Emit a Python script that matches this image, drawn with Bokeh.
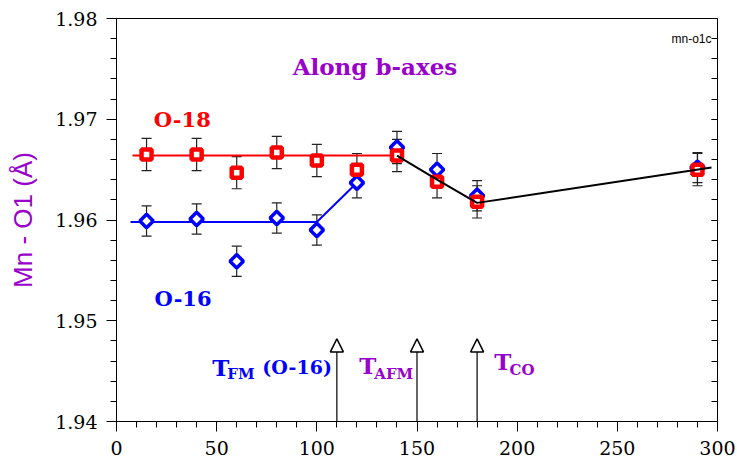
import numpy as np
from bokeh.plotting import figure
from bokeh.models import (Range1d, SingleIntervalTicker, LinearAxis, Whisker, TeeHead,
                          Arrow, NormalHead, ColumnDataSource, PrintfTickFormatter, Label,
                          CustomJSTickFormatter)
from bokeh.embed import file_html
from bokeh.resources import INLINE
from bokeh.core.properties import value

# ---------------- data ----------------
temps = [15, 40, 60, 80, 100, 120, 140, 160, 180, 290]
o18 = [1.9665, 1.9665, 1.9647, 1.9667, 1.9659, 1.9650, 1.9664, 1.9638, 1.9618, 1.9650]
o18_err = [0.0016, 0.0016, 0.0016, 0.0016, 0.0016, 0.0016, 0.0016, 0.0016, 0.0016, 0.0016]
o16 = [1.9599, 1.9601, 1.9559, 1.9602, 1.9590, 1.9637, 1.9672, 1.9650, 1.9624, 1.9652]
o16_err = [0.0015, 0.0015, 0.0015, 0.0015, 0.0015, 0.0015, 0.0016, 0.0016, 0.0015, 0.0015]

o18_fit_x = [8, 140]
o18_fit_y = [1.9664, 1.9664]
o16_fit_x = [7, 100, 120]
o16_fit_y = [1.9598, 1.9598, 1.9637]
common_fit_x = [140, 160, 180, 297]
common_fit_y = [1.9664, 1.9640, 1.9617, 1.9652]

transition_x = [110, 150, 180]
arrow_top = 1.9482
arrow_base = 1.94

x_ticks_interval = 50
y_ticks_interval = 0.01

PURPLE = "#9900CC"
SERIF = "DejaVu Serif"
SANS = "Liberation Sans"

p = figure(width=737, height=465, output_backend="svg", toolbar_location=None,
           x_range=Range1d(0, 300), y_range=Range1d(1.94, 1.98),
           min_border_left=116, min_border_right=20, min_border_top=18,
           min_border_bottom=44, x_axis_location="below")
p.grid.visible = False
p.outline_line_color = "black"
p.outline_line_width = 1
p.background_fill_color = "white"
p.border_fill_color = "white"

# axes
xa = p.xaxis[0]
xa.ticker = SingleIntervalTicker(interval=x_ticks_interval, num_minor_ticks=5)
ya = p.yaxis[0]
ya.ticker = SingleIntervalTicker(interval=y_ticks_interval, num_minor_ticks=5)
ya.formatter = PrintfTickFormatter(format="%.2f")
for ax in (xa, ya):
    ax.major_tick_in = 0
    ax.major_tick_out = 10
    ax.minor_tick_in = 0
    ax.minor_tick_out = 6
    ax.axis_line_color = "black"
    ax.major_tick_line_color = "black"
    ax.minor_tick_line_color = "black"
    ax.major_label_text_font = SERIF
    ax.major_label_text_font_size = "19px"
    ax.major_label_text_color = "black"
    ax.major_label_standoff = 9
ya.axis_label = "Mn - O1 (Å)"
ya.axis_label_text_font = SANS
ya.axis_label_text_font_style = "normal"
ya.axis_label_text_font_size = "26px"
ya.axis_label_text_color = PURPLE
ya.axis_label_standoff = 14

ra = LinearAxis(ticker=SingleIntervalTicker(interval=y_ticks_interval, num_minor_ticks=5),
                formatter=CustomJSTickFormatter(code="return '';"),
                major_label_standoff=0,
                major_tick_in=6, major_tick_out=0, minor_tick_in=6, minor_tick_out=0,
                axis_line_color="black")
p.add_layout(ra, "right")

# fit lines under markers
p.line(o18_fit_x, o18_fit_y, line_color="red", line_width=2)
p.line(o16_fit_x, o16_fit_y, line_color="blue", line_width=2)

# markers
p.scatter(temps, o16, marker="square", angle=np.pi / 4, size=9.5,
          line_color="blue", line_width=3.5, fill_color="white")
p.scatter(temps, o18, marker="square", size=10,
          line_color="red", line_width=4.5, fill_color="white")

p.line(common_fit_x, common_fit_y, line_color="black", line_width=2)

# error bars
for vals, errs in ((o18, o18_err), (o16, o16_err)):
    src = ColumnDataSource(dict(x=temps,
                                lo=[v - e for v, e in zip(vals, errs)],
                                hi=[v + e for v, e in zip(vals, errs)]))
    w = Whisker(source=src, base="x", lower="lo", upper="hi",
                line_color="#222222", line_width=1.2,
                upper_head=TeeHead(size=10, line_color="#222222", line_width=1.2),
                lower_head=TeeHead(size=10, line_color="#222222", line_width=1.2))
    p.add_layout(w)

# transition arrows
for tx in transition_x:
    p.add_layout(Arrow(x_start=tx, y_start=arrow_base, x_end=tx, y_end=arrow_top,
                       line_color="black", line_width=1.2,
                       end=NormalHead(size=13, fill_color="white", line_color="black",
                                      line_width=1.5)))

def lab(x, y, text, color, size, style="bold", font=SERIF, align="left", baseline="alphabetic"):
    p.add_layout(Label(x=x, y=y, text=text, text_color=color, text_font=font,
                       text_font_size=size, text_font_style=style,
                       text_align=align, text_baseline=baseline))

lab(129, 1.9752, "Along b-axes", PURPLE, "23px", align="center")
lab(18.6, 1.9700, "O-18", "red", "21px")
lab(19.0, 1.9522, "O-16", "blue", "21px")

lab(47.8, 1.9454, "T", "blue", "23px")
lab(55.3, 1.94467, "FM", "blue", "15px")
lab(72.8, 1.9454, "(O-16)", "blue", "19px")

lab(121.2, 1.94556, "T", PURPLE, "23px")
lab(128.7, 1.94473, "AFM", PURPLE, "15px")

lab(188.5, 1.94598, "T", PURPLE, "23px")
lab(196.2, 1.94513, "CO", PURPLE, "15px")

lab(297, 1.978, "mn-o1c", "black", "12px", style="normal", font=SANS,
    align="right", baseline="middle")

open("out.html", "w").write(file_html(p, INLINE))
